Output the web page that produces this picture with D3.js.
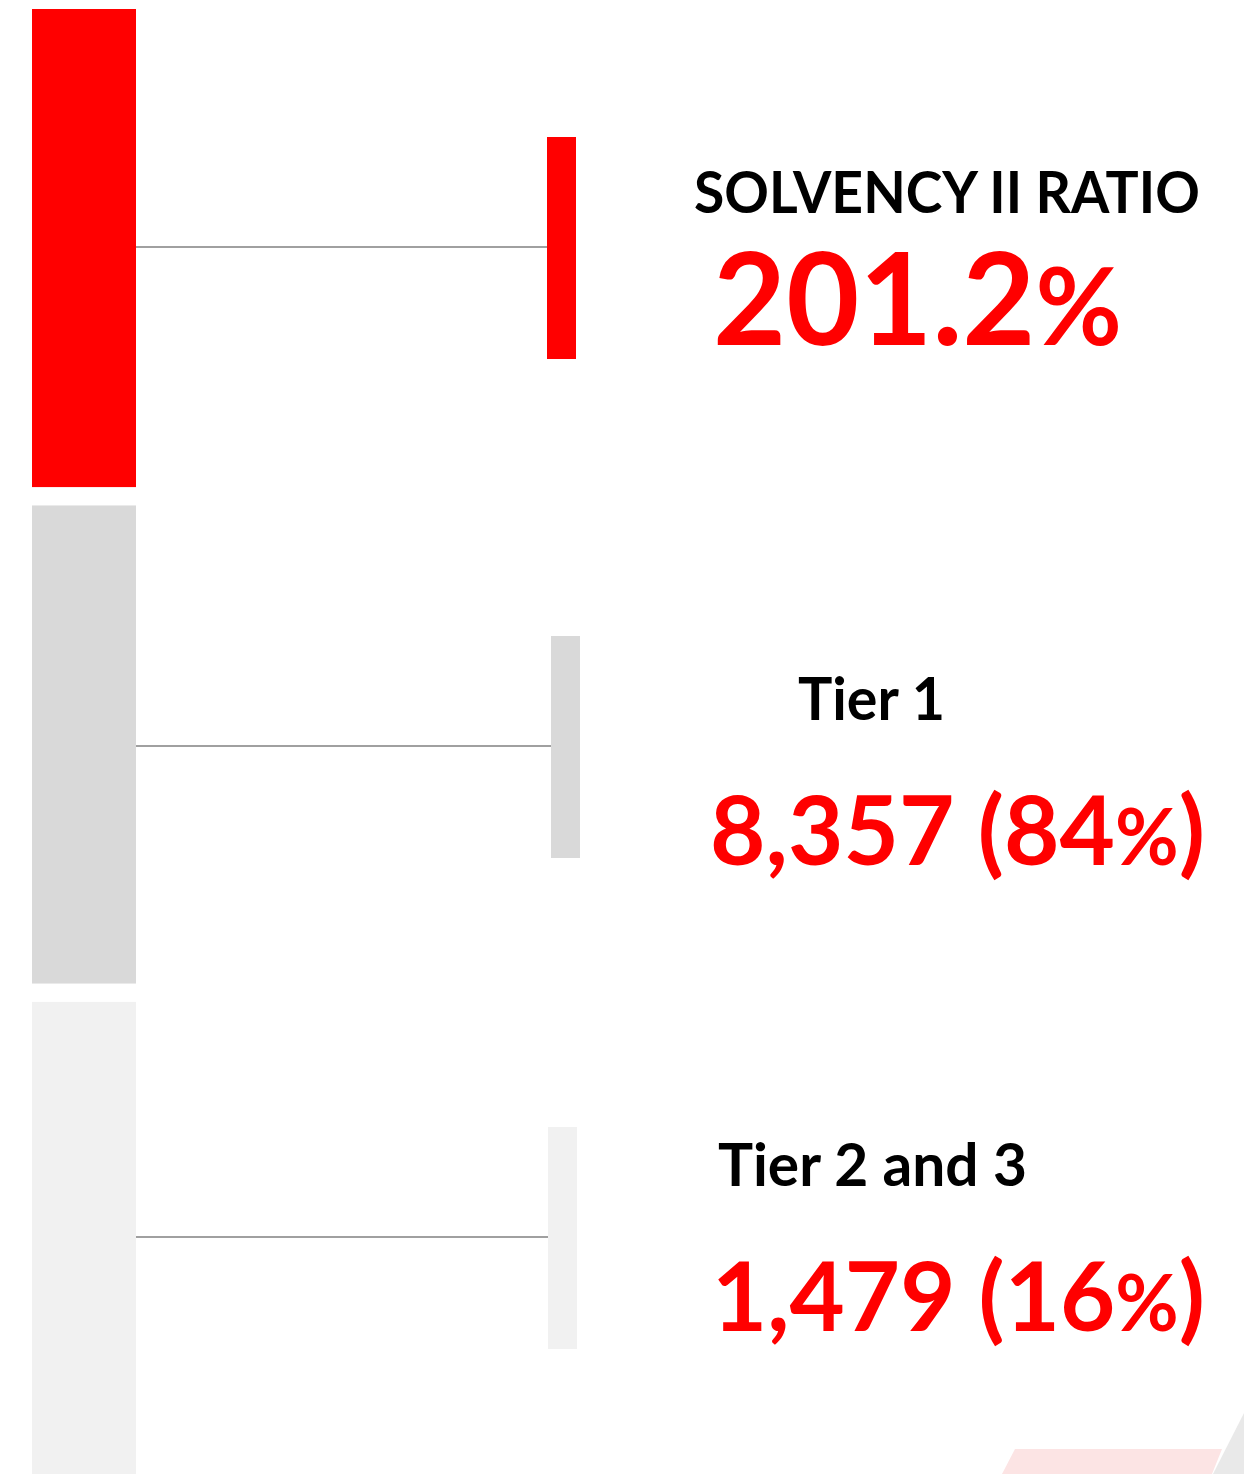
<!DOCTYPE html>
<html>
<head>
<meta charset="utf-8">
<script src="https://cdn.jsdelivr.net/npm/d3@7"></script>
<style>
  html, body { margin: 0; padding: 0; background: #fff; overflow: hidden; }
  svg { display: block; }
  text { font-family: Lato, "Open Sans", sans-serif; font-weight: 700; }
</style>
</head>
<body>
<div id="chart-container"></div>
<script>
const width = 1244;
const height = 1474;

// data
const labels = ["SOLVENCY II RATIO", "Tier 1", "Tier 2 and 3"];
const solvencyRatio = 201.2;
const ownFunds = [null, 8357, 1479];
const shares = [null, 84, 16];
const colors = ["#ff0000", "#d9d9d9", "#f1f1f1"];

// layout (label placement per row)
const labelX = [694, 798, 718];
const labelW = [506, 147, 309];
const valueX = [713, 710, 712];
const valueW = [409, 495, 493];
const labelBase = [213, 720, 1186];
const valueBase = [345, 865, 1331];
const smallX = [547, 551, 548];
const lineDy = [-1, 1.6, -3.8];

const rows = d3.range(labels.length);

const svg = d3
  .select("#chart-container")
  .append("svg")
  .attr("width", width)
  .attr("height", height);

const y = d3.scaleBand().domain(rows).range([9, 1480]).paddingInner(0.037);

// big panel bars on the left
svg
  .selectAll(".panel")
  .data(rows)
  .enter()
  .append("rect")
  .attr("class", "panel")
  .attr("x", 32)
  .attr("y", (d) => y(d))
  .attr("width", 104)
  .attr("height", y.bandwidth())
  .style("fill", (d) => colors[d]);

// connectors
const mid = (d) => Math.round(y(d) + y.bandwidth() / 2 + lineDy[d]);
svg
  .selectAll(".connector")
  .data(rows)
  .enter()
  .append("line")
  .attr("x1", 136)
  .attr("x2", (d) => smallX[d])
  .attr("y1", mid)
  .attr("y2", mid)
  .style("stroke", "#808080")
  .style("stroke-width", 1.6);

// small bars
svg
  .selectAll(".small")
  .data(rows)
  .enter()
  .append("rect")
  .attr("class", "small")
  .attr("x", (d) => smallX[d])
  .attr("y", (d) => mid(d) - 110)
  .attr("width", 29)
  .attr("height", 222)
  .style("fill", (d) => colors[d]);

// fit a text element to a given width
function fit(sel, x, base, w) {
  sel.each(function () {
    const bb = this.getBBox();
    const k = w / bb.width;
    d3.select(this).attr(
      "transform",
      "translate(" + (x - bb.x * k) + "," + base + ") scale(" + k + ",1)"
    );
  });
}

rows.forEach((i) => {
  const lab = svg
    .append("text")
    .attr("x", 0)
    .attr("y", 0)
    .style("font-size", i === 0 ? "57px" : "59px")
    .style("fill", "#000")
    .text(labels[i]);
  fit(lab, labelX[i], labelBase[i], labelW[i]);

  const val = svg
    .append("text")
    .attr("x", 0)
    .attr("y", 0)
    .style("font-size", i === 0 ? "129px" : "96px")
    .style("fill", "#ff0000");
  if (i === 0) {
    val.append("tspan").text(d3.format(".1f")(solvencyRatio));
    val.append("tspan").style("font-size", "108px").text("%");
  } else {
    val.append("tspan").text(d3.format(",")(ownFunds[i]) + " (" + shares[i]);
    val.append("tspan").style("font-size", "78px").text("%");
    val.append("tspan").text(")");
  }
  fit(val, valueX[i], valueBase[i], valueW[i]);
});

// decorative corner shapes
svg
  .append("polygon")
  .attr("points", "1015,1449 1222,1449 1212,1474 1002,1474")
  .style("fill", "#fce4e4");
svg
  .append("polygon")
  .attr("points", "1244,1413 1244,1474 1213,1474")
  .style("fill", "#e9e9e9");
</script>
</body>
</html>
